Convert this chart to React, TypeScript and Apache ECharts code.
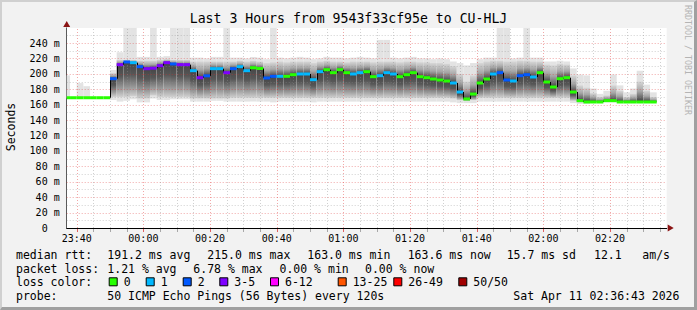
import React, { useEffect, useRef } from 'react';
import * as echarts from 'echarts';

// x axis: minutes after 23:37 (left edge of the graph), 3 hours wide
const axisMinutes = 180;
const yMaxMs = 259.6;
const firstStepStart = -1; // minutes, each RRD step is 2 minutes
const stepLength = 2;

const tickMinutes = [3, 23, 43, 63, 83, 103, 123, 143, 163];
const tickLabels = ['23:40', '00:00', '00:20', '00:40', '01:00', '01:20', '01:40', '02:00', '02:20'];
const yTickValues = [0, 20, 40, 60, 80, 100, 120, 140, 160, 180, 200, 220, 240];

// median RTT per step (ms)
const median = [
  169, 169, 169, 169, 169, 169, 169,
  193.7, 211.9, 215.4, 214.5, 209.3, 206.7, 207.3,
  210.6, 214.5, 212.8, 211.9, 211.9, 204.1, 195,
  197.4, 206.7, 206.7, 201.5, 206.7, 209.3, 204.1,
  208, 206.9, 194.6, 196.8, 196.8, 196.8, 198.9,
  199.8, 199.8, 192.4, 202.8, 205.4, 201.5, 205.4,
  201.5, 199.8, 201.5, 202.8, 196.3, 197.6, 201.5,
  199.8, 196.3, 198.9, 201.5, 196.3, 195, 193.3,
  192, 190.7, 188.1, 176.4, 167.4, 173.8, 188.1,
  193.3, 199.8, 201.5, 192, 190.7, 197.6, 198.9,
  195.9, 201.5, 189.4, 182.9, 193.7, 195, 176.4,
  165.2, 163.5, 163.5, 163.5, 165.2, 165.2, 163.5,
  163.5, 163.5, 163.5, 163.5, 163.5,
];
// loss colour class per step (index into lossColors)
const lossIndex = [
  0, 0, 0, 0, 0, 0, 0,
  2, 3, 2, 1, 2, 3, 3,
  3, 3, 2, 3, 3, 1, 3,
  2, 1, 1, 3, 2, 1, 1,
  0, 0, 2, 2, 1, 0, 0,
  1, 1, 1, 1, 0, 0, 0,
  0, 1, 1, 0, 0, 1, 1,
  1, 0, 0, 0, 0, 0, 0,
  0, 0, 1, 1, 0, 0, 0,
  0, 1, 2, 2, 1, 2, 2,
  1, 0, 0, 0, 0, 0, 0,
  0, 0, 0, 0, 0, 0, 0,
  0, 0, 0, 0, 0,
];
// smoke: outermost ping (max), upper band, lower band, lowest ping (min)
const smokeMax = [
  198, 169, 188, 184, 169, 169, 169,
  205, 228, 260, 260, 222, 222, 260,
  222, 223, 260, 260, 260, 221, 221,
  220, 222, 222, 260, 221, 221, 220,
  222, 221, 219, 260, 221, 220, 221,
  222, 221, 219, 220, 222, 221, 221,
  220, 221, 222, 221, 220, 244, 244,
  221, 220, 221, 222, 220, 220, 219,
  220, 219, 216, 214, 211, 214, 219,
  221, 221, 260, 260, 220, 221, 260,
  221, 221, 216, 216, 217, 216, 207,
  199, 198, 181, 174, 178, 199, 185,
  176, 181, 204, 186, 176,
];
const smokeHi = [
  169, 169, 169, 169, 169, 169, 169,
  201, 218, 218, 218, 217, 217, 217,
  218, 219, 218, 218, 218, 216, 216,
  216, 216, 216, 216, 216, 217, 216,
  217, 216, 214, 215, 216, 215, 216,
  216, 216, 214, 216, 217, 216, 216,
  215, 216, 216, 216, 215, 216, 216,
  216, 215, 216, 216, 215, 215, 214,
  214, 213, 210, 200, 190, 198, 214,
  216, 217, 217, 216, 216, 217, 217,
  216, 216, 212, 211, 213, 212, 198,
  185, 182, 175, 170, 172, 185, 178,
  170, 174, 190, 178, 170,
];
const smokeLo = [
  169, 169, 169, 169, 169, 169, 169,
  170, 170, 170, 171, 168, 168, 172,
  170, 170, 170, 170, 170, 168, 168,
  168, 168, 168, 168, 169, 169, 169,
  169, 169, 169, 169, 169, 169, 169,
  169, 169, 169, 169, 169, 169, 169,
  169, 169, 169, 169, 169, 169, 169,
  169, 169, 169, 169, 169, 169, 169,
  169, 169, 168, 166, 165, 166, 169,
  169, 169, 169, 169, 169, 169, 169,
  169, 169, 169, 169, 169, 169, 165,
  163, 163, 163, 163, 164, 164, 163,
  163, 163, 163, 163, 163,
];
const smokeMin = [
  169, 169, 169, 169, 169, 169, 169,
  166, 164, 165, 167, 163, 163, 168,
  166, 166, 167, 167, 167, 164, 164,
  164, 165, 165, 164, 164, 164, 164,
  164, 164, 164, 163, 164, 164, 164,
  164, 164, 163, 164, 164, 164, 164,
  164, 164, 164, 164, 164, 164, 164,
  164, 164, 164, 164, 164, 164, 164,
  164, 164, 163, 162, 162, 162, 164,
  164, 164, 164, 164, 164, 164, 164,
  164, 164, 164, 164, 164, 164, 162,
  161, 161, 162, 162, 163, 163, 162,
  162, 162, 162, 162, 162,
];

const lossLabels = ['0', '1', '2', '3-5', '6-12', '13-25', '26-49', '50/50'];
const lossColors = ['#26ff00', '#00b8ff', '#0059ff', '#7e00ff', '#ff00ff', '#ff5500', '#ff0000', '#a10000'];

const rttStats = ['191.2 ms avg', '215.0 ms max', '163.0 ms min', '163.6 ms now', '15.7 ms sd', '12.1', 'am/s'];
const lossStats = ['1.21 % avg', '6.78 % max', '0.00 % min', '0.00 % now'];
const probeText = '50 ICMP Echo Pings (56 Bytes) every 120s';
const stampText = 'Sat Apr 11 02:36:43 2026';
const titleText = 'Last 3 Hours from 9543f33cf95e to CU-HLJ';

const MONO = '"DejaVu Sans Mono", monospace';

function buildOption() {
  const rows = median.map((m, j) => {
    const x0 = firstStepStart + j * stepLength;
    return [x0, x0 + stepLength, smokeMin[j], smokeLo[j], m, smokeHi[j], smokeMax[j], lossIndex[j], j > 0 ? median[j - 1] : m];
  });

  const gridRows: number[][] = [];
  for (let v = 10; v < yMaxMs; v += 10) gridRows.push([0, v]);
  for (let m = 3; m < axisMinutes; m += 5) gridRows.push([1, m]);

  const clipOf = (params: any) => ({
    x: params.coordSys.x, y: params.coordSys.y,
    width: params.coordSys.width, height: params.coordSys.height,
  });

  const smokeRender = (params: any, api: any) => {
    const x0 = api.value(0), x1 = api.value(1);
    const vMin = api.value(2), vLo = api.value(3), vMed = api.value(4), vHi = api.value(5), vMax = api.value(6);
    const area = clipOf(params);
    const children: any[] = [];
    if (vMax > vMin) {
      const a = api.coord([x0, vMax]);
      const b = api.coord([x1, vMin]);
      const r = echarts.graphic.clipRectByRect({ x: a[0], y: a[1], width: b[0] - a[0], height: b[1] - a[1] }, area);
      if (r) children.push({ type: 'rect', shape: r, style: { fill: '#e3e3e3' } });
    }
    if (vHi > vLo) {
      const a = api.coord([x0, vHi]);
      const b = api.coord([x1, vLo]);
      const r = echarts.graphic.clipRectByRect({ x: a[0], y: a[1], width: b[0] - a[0], height: b[1] - a[1] }, area);
      let p = (vHi - vMed) / (vHi - vLo);
      p = Math.min(0.93, Math.max(0.07, p));
      if (r) children.push({
        type: 'rect', shape: r,
        style: {
          fill: new echarts.graphic.LinearGradient(0, 0, 0, 1, [
            { offset: 0, color: '#d6d6d6' },
            { offset: p * 0.5, color: '#a6a6a6' },
            { offset: p, color: '#454545' },
            { offset: p + (1 - p) * 0.35, color: '#575757' },
            { offset: p + (1 - p) * 0.75, color: '#9c9c9c' },
            { offset: 1, color: '#d0d0d0' },
          ]),
        },
      });
    }
    return { type: 'group', children };
  };

  const gridRender = (params: any, api: any) => {
    const kind = api.value(0), v = api.value(1);
    const major = kind === 0 ? v % 20 === 0 : (v - 3) % 20 === 0;
    const stroke = major ? 'rgba(222,48,48,0.42)' : 'rgba(143,143,143,0.42)';
    const children: any[] = [];
    if (kind === 0) {
      const a = api.coord([0, v]);
      const b = api.coord([axisMinutes, v]);
      const y = Math.round(a[1]) + 0.5;
      children.push({ type: 'line', shape: { x1: a[0], y1: y, x2: b[0], y2: y }, style: { stroke, lineWidth: 1, lineDash: [1, 2] } });
    } else {
      const a = api.coord([v, 0]);
      const b = api.coord([v, yMaxMs]);
      const x = Math.round(a[0]) + 0.5;
      children.push({ type: 'line', shape: { x1: x, y1: a[1], x2: x, y2: b[1] }, style: { stroke, lineWidth: 1, lineDash: [1, 2] } });
      children.push({ type: 'line', shape: { x1: x, y1: a[1] + 1, x2: x, y2: a[1] + 4 }, style: { stroke: major ? '#e06060' : '#a8a8a8', lineWidth: 1 } });
    }
    return { type: 'group', children };
  };

  const medianRender = (params: any, api: any) => {
    const x0 = api.value(0), x1 = api.value(1);
    const vMed = api.value(4), idx = api.value(7), vPrev = api.value(8);
    const area = clipOf(params);
    const a = api.coord([x0, vMed]);
    const b = api.coord([x1, vMed]);
    const pr = api.coord([x0, vPrev]);
    const children: any[] = [];
    if (params.dataIndex > 0 && Math.abs(pr[1] - a[1]) > 0.5) {
      const x = Math.round(a[0]) + 0.5;
      children.push({ type: 'line', shape: { x1: x, y1: pr[1], x2: x, y2: a[1] }, style: { stroke: '#000', lineWidth: 1 } });
    }
    const r = echarts.graphic.clipRectByRect({ x: a[0], y: a[1] - 1.5, width: b[0] - a[0], height: 3 }, area);
    if (r) children.push({ type: 'rect', shape: r, style: { fill: lossColors[idx] } });
    return { type: 'group', children };
  };

  const graphics: any[] = [];
  const txt = (x: number, y: number, text: string, extra: any = {}) => graphics.push({
    type: 'text', x, y, silent: true,
    style: { text, fontFamily: MONO, fontSize: 11.5, fill: '#000', verticalAlign: 'middle', align: 'left', ...extra },
  });
  // legend rows
  const r1 = 254.5, r2 = 268.5, r3 = 282.3, r4 = 296;
  txt(16, r1, 'median rtt:');
  [107.3, 207.3, 307.3, 407.7, 506.7, 594, 642.3].forEach((x, i) => txt(x, r1, rttStats[i]));
  txt(16, r2, 'packet loss:');
  [107.3, 193.3, 279.5, 365].forEach((x, i) => txt(x, r2, lossStats[i]));
  txt(16, r3, 'loss color:');
  const boxX = [108.7, 145.7, 182.7, 219.3, 270, 337.7, 393.3, 458.3];
  lossLabels.forEach((lab, i) => {
    graphics.push({
      type: 'rect', silent: true,
      shape: { x: boxX[i] + 0.5, y: r3 - 4.5, width: 8, height: 8 },
      style: { fill: lossColors[i], stroke: '#000', lineWidth: 1 },
    });
    txt(boxX[i] + 15, r3, lab);
  });
  txt(16, r4, 'probe:');
  txt(107.3, r4, probeText);
  txt(513.3, r4, stampText);
  // y axis name
  graphics.push({
    type: 'text', x: 11, y: 127, rotation: Math.PI / 2, silent: true,
    style: { text: 'Seconds', fontFamily: MONO, fontSize: 11.5, fill: '#000', align: 'center', verticalAlign: 'middle' },
  });
  // watermark
  graphics.push({
    type: 'text', x: 687.5, y: 60, rotation: -Math.PI / 2, silent: true,
    style: { text: 'RRDTOOL / TOBI OETIKER', fontFamily: MONO, fontSize: 8.3, fill: '#b4b4b4', align: 'center', verticalAlign: 'middle' },
  });

  return {
    animation: false,
    backgroundColor: '#f2f2f2',
    title: {
      text: titleText, left: 'center', top: 12, padding: 0,
      textStyle: { fontFamily: MONO, fontSize: 13.2, fontWeight: 'normal', color: '#000' },
    },
    grid: { left: 66.7, top: 27.9, width: 600, height: 200.1, show: true, backgroundColor: '#ffffff', borderWidth: 0 },
    xAxis: {
      type: 'value', min: 0, max: axisMinutes,
      axisLine: { show: true, onZero: false, lineStyle: { color: '#000', width: 1 } },
      axisTick: { show: false },
      splitLine: { show: false },
      axisLabel: {
        customValues: tickMinutes,
        formatter: (v: number) => {
          const i = tickMinutes.indexOf(Math.round(v));
          return i >= 0 ? tickLabels[i] : '';
        },
        fontFamily: MONO, fontSize: 10, color: '#000', margin: 5,
      },
    },
    yAxis: {
      type: 'value', min: 0, max: yMaxMs,
      axisLine: { show: true, lineStyle: { color: '#5a5a5a', width: 1 } },
      axisTick: { show: false },
      splitLine: { show: false },
      axisLabel: {
        customValues: yTickValues,
        formatter: (v: number) => (v === 0 ? '0  ' : `${v} m`),
        fontFamily: MONO, fontSize: 10, color: '#000', margin: 7,
      },
    },
    graphic: graphics,
    series: [
      {
        type: 'custom', name: 'smoke', silent: true, z: 2,
        renderItem: smokeRender, data: rows, encode: { x: [0, 1], y: [2, 6] },
      },
      {
        type: 'custom', name: 'grid', silent: true, z: 3,
        renderItem: gridRender, data: gridRows, encode: { x: 1, y: 1 },
      },
      {
        type: 'custom', name: 'median', silent: true, z: 4,
        renderItem: medianRender, data: rows, encode: { x: [0, 1], y: 4 },
      },
      {
        type: 'line', name: 'arrows', data: [], silent: true, z: 5,
        markPoint: {
          silent: true,
          label: { show: false },
          itemStyle: { color: '#8b1414' },
          data: [
            { coord: [0, yMaxMs], symbol: 'triangle', symbolSize: [7, 6], symbolOffset: [0, -4] },
            { coord: [axisMinutes, 0], symbol: 'triangle', symbolSize: [7, 6], symbolRotate: -90, symbolOffset: [4, 0] },
          ],
        },
      },
    ],
  };
}

export default function App() {
  const ref = useRef<HTMLDivElement>(null);
  useEffect(() => {
    document.body.style.margin = '0';
    const chart = echarts.init(ref.current!, null, { renderer: 'svg' });
    chart.setOption(buildOption() as any);
    return () => chart.dispose();
  }, []);
  return (
    <div style={{ position: 'relative', width: 697, height: 310 }}>
      <div ref={ref} style={{ position: 'absolute', left: 0, top: 0, width: 697, height: 310 }} />
      <div
        style={{
          position: 'absolute', left: 0, top: 0, width: 697, height: 310, boxSizing: 'border-box',
          borderTop: '2px solid #d0d0d0', borderLeft: '2px solid #d0d0d0',
          borderRight: '3px solid #a0a0a0', borderBottom: '3px solid #a0a0a0', pointerEvents: 'none',
        }}
      />
    </div>
  );
}
